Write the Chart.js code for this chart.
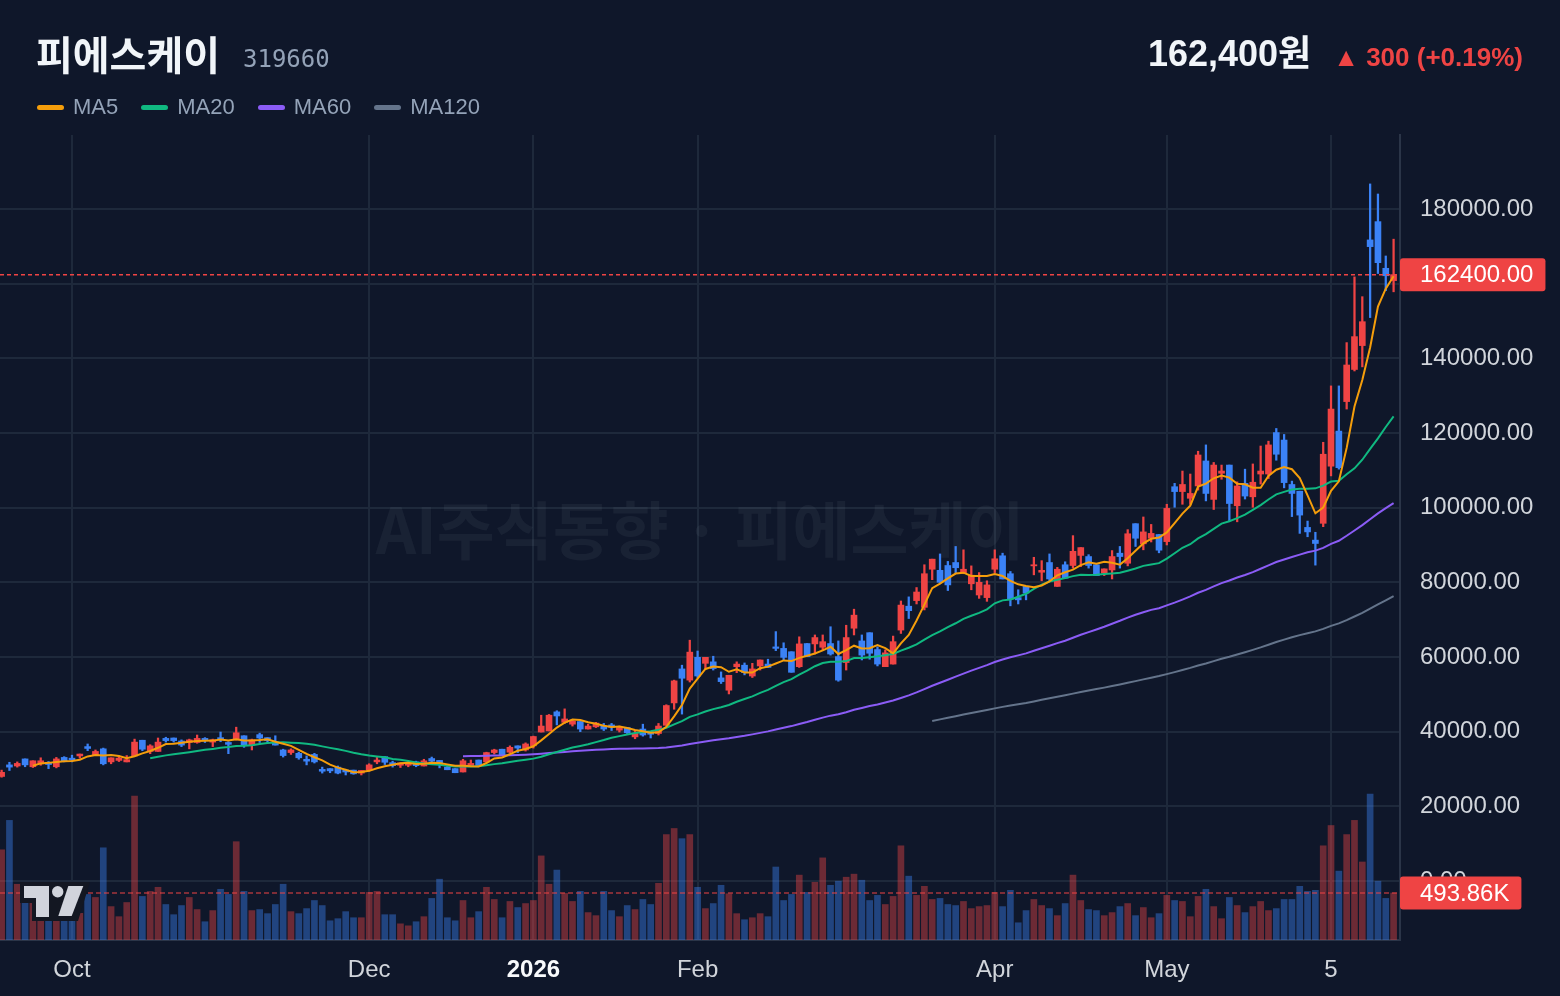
<!DOCTYPE html>
<html lang="ko">
<head>
    <meta charset="utf-8">
    <title>피에스케이</title>
    <script src="https://cdn.jsdelivr.net/npm/chart.js"></script>
    <style>
        html, body {
            margin: 0;
            padding: 0;
            background: #0f172a;
            width: 1560px;
            height: 996px;
            overflow: hidden;
        }

        #chart {
            position: absolute;
            left: 0;
            top: 0;
        }

        .head {
            position: absolute;
            white-space: nowrap;
            z-index: 2;
        }

        #name {
            left: 36px;
            top: 33px;
            font: bold 40px/40px "Noto Sans CJK KR", sans-serif;
            color: #f1f5f9;
        }

        #code {
            left: 243px;
            top: 47px;
            font: 24px/24px "DejaVu Sans Mono", monospace;
            color: #94a3b8;
        }

        #price {
            right: 37px;
            top: 36px;
            display: flex;
            align-items: baseline;
            gap: 22px;
        }

        #price .now {
            font: bold 36px/36px "Liberation Sans", "Noto Sans CJK KR", sans-serif;
            color: #f1f5f9;
        }

        #price .chg {
            font: bold 26px/26px "Liberation Sans", sans-serif;
            color: #ef4444;
        }

        #legend {
            left: 37px;
            top: 96px;
            display: flex;
            gap: 23px;
            font: 22px/22px "Liberation Sans", sans-serif;
            color: #94a3b8;
        }

        #legend .item {
            display: flex;
            align-items: center;
            gap: 9px;
        }

        #legend .sw {
            width: 27px;
            height: 5px;
            border-radius: 3px;
        }
    </style>
</head>
<body>
<div class="head" id="name">피에스케이</div>
<div class="head" id="code">319660</div>
<div class="head" id="price"><span class="now">162,400원</span><span class="chg">▲ 300 (+0.19%)</span></div>
<div class="head" id="legend"></div>
<canvas id="chart" width="1560" height="996"></canvas>
<script>
    // daily candles, index 0 = first visible session (mid Sep 2025)
    const opens = [28000,31100,30800,32700,30600,31400,31700,30600,33100,32900,33500,36000,33700,35400,31900,32300,31900,33500,37700,34700,34700,38200,38300,37500,37100,37100,38200,37200,38400,37100,37800,38900,36400,39200,38400,37300,35100,34400,34200,32600,33900,29900,30100,30500,29700,29700,28900,29700,31900,33300,31700,31000,31000,31900,30800,32800,32300,30500,30100,29200,30900,32400,31900,34400,35300,34500,36200,35100,36200,39900,40200,45300,42500,42000,42700,40700,41300,41500,41800,40400,41100,38600,40700,39700,39500,41700,47700,56800,53800,59900,58300,58700,54400,51100,57400,57800,54900,57600,58100,62700,62300,61400,57400,63600,63500,62600,63600,60100,58500,67700,64300,66500,62000,57400,58100,67200,73600,75100,73300,83500,83200,84500,85300,82500,79600,76600,75900,83500,87100,82300,75900,78900,84400,82700,85300,78900,84700,84500,87200,86900,84700,82500,83300,87800,85100,95700,90300,91800,92800,90900,105600,104300,102500,105800,112500,102200,109200,111400,100500,106500,102900,109000,109000,120100,118100,106200,104400,94700,91300,95800,111100,120500,128400,137000,143400,171700,176600,164100,160800];
    const highs = [29700,31800,31900,32700,32200,33000,32000,33100,33300,33700,34000,36700,35100,35600,33000,33500,33600,38000,37700,36500,38300,38500,38300,37800,38000,39100,38400,38000,39900,37300,41200,38900,38000,39600,38400,38900,35300,35400,34500,33500,34200,30500,30100,30800,29900,29700,29600,31400,33100,33300,32100,31600,31900,32100,32600,33200,32300,30700,30100,32600,32400,32400,34500,35300,35300,36200,36200,37000,38800,44400,44600,45600,46100,43300,42700,42000,42500,42200,42200,41500,41100,40300,42000,39700,42200,47200,53800,57800,64500,61600,59900,60200,56000,55100,58700,58400,58300,59200,59400,66800,63800,61400,65400,63600,65900,65900,68100,64300,68500,72800,65900,66500,62700,61900,65600,75000,76100,78600,84700,86200,87600,85600,89600,88700,84400,82600,80400,88700,87800,82900,78000,78900,86700,85800,87600,84000,85500,92500,89300,87400,84700,83600,88500,89600,94100,95700,97500,95500,92800,100900,106500,109800,109000,115100,116800,112100,111400,111400,106900,110300,111700,116500,117800,121200,119600,107100,104400,96400,93400,117500,132600,132600,144200,161800,156500,186700,184000,167400,171900];
    const lows = [27800,29600,30500,30600,30400,31000,30100,30300,31900,31900,32900,34900,33700,31100,31400,32000,31900,33500,34900,34100,34700,37200,37200,36000,35400,36900,37100,36000,37300,34100,37800,35800,35100,37100,36900,36400,33200,33900,32600,31100,31600,28900,29000,28700,28400,28600,28400,29400,31400,31200,30500,30400,30600,30600,30800,31500,30300,29800,29000,29200,30900,30900,31900,34000,33600,34200,34400,34800,35600,39900,40200,41800,42200,41500,40000,40700,41100,40300,40300,39900,39500,38100,38800,38300,39100,41700,46000,44700,53300,54500,56700,56500,52900,50100,55800,55200,54500,56500,57200,61700,59200,55900,57200,60100,60800,61700,60500,53500,56500,65900,59200,59400,57600,57400,58100,66300,70300,74200,72600,80700,79600,77800,82600,82300,78000,75700,74900,82600,80900,73700,74200,75300,82000,80400,80400,78900,81100,83800,84200,83800,81800,81800,80900,83800,84400,89600,88700,90800,87900,90000,100100,100900,100900,104700,101800,99500,107600,96500,96200,102300,100100,106300,107800,112700,105300,97600,93100,92200,84600,94900,108500,110300,126400,136600,137700,150900,162700,158100,157800];
    const closes = [29100,30500,31500,31100,32200,32200,31200,32700,32200,32400,34000,35500,34700,31400,33000,32900,32500,37200,35300,36200,37200,37600,37600,36400,37800,38200,37800,37800,37800,36600,39700,36300,37800,38300,37600,36400,33600,35100,33000,32100,31900,29400,29500,28900,29200,28700,29600,31100,32400,31800,30900,31600,31500,30900,32200,32100,31200,29800,29000,32200,31500,30900,34400,35100,33600,35800,35600,36700,38700,41500,44400,44200,43400,42800,40700,41500,42300,40700,41200,41100,39700,39500,39100,39300,41500,47000,53600,54300,61300,54900,59900,56900,53400,55100,58100,55800,56800,59200,57200,62300,59900,55900,63500,60100,65200,64100,60800,53800,65200,71200,60500,61000,58100,61100,64100,73900,72400,77400,82300,86200,80000,79300,83900,83500,81900,80000,79300,86300,80900,75500,75300,77100,84700,83200,80900,83500,81100,88300,89300,84500,81800,83600,86900,86900,93000,91800,93500,93100,88600,99800,104300,106200,103800,114100,103800,111400,109800,101100,105800,103100,106800,109800,116800,114300,106700,103800,98000,93500,90400,114300,126400,110700,138200,145800,149800,169900,165600,162100,162400];
    const volumes = [948000,1257000,586000,400000,450000,400000,350000,380000,300000,320000,280000,479000,447000,969000,351000,245000,394000,1512000,458000,511000,554000,373000,266000,362000,447000,320000,192000,309000,533000,479000,1033000,511000,309000,320000,277000,373000,586000,298000,277000,330000,415000,362000,202000,224000,298000,234000,234000,500000,511000,266000,266000,170000,149000,192000,245000,437000,639000,234000,202000,415000,234000,298000,554000,426000,234000,405000,341000,383000,415000,884000,586000,735000,490000,405000,511000,288000,256000,511000,309000,245000,362000,320000,426000,373000,596000,1108000,1172000,1065000,1108000,554000,330000,383000,575000,486000,277000,213000,234000,277000,245000,767000,415000,479000,682000,500000,607000,863000,575000,618000,660000,692000,628000,415000,469000,373000,458000,990000,671000,469000,564000,426000,437000,373000,362000,405000,330000,351000,362000,500000,351000,522000,181000,309000,426000,362000,330000,256000,383000,682000,415000,320000,309000,256000,288000,351000,383000,256000,341000,234000,277000,469000,415000,405000,245000,458000,533000,351000,224000,447000,362000,288000,351000,405000,309000,330000,426000,426000,564000,511000,522000,990000,1203000,724000,1108000,1257000,820000,1534000,618000,437000,493860];

    // month labels on the time axis (session index -> text)
    const tickIdx = [9, 47, 68, 89, 127, 149, 170];
    const tickText = ['Oct', 'Dec', '2026', 'Feb', 'Apr', 'May', '5'];
    const priceTicks = [0, 20000, 40000, 60000, 80000, 100000, 120000, 140000, 160000, 180000];

    const maSpecs = [
        {label: 'MA5', period: 5, color: '#f59e0b'},
        {label: 'MA20', period: 20, color: '#10b981'},
        {label: 'MA60', period: 60, color: '#8b5cf6'},
        {label: 'MA120', period: 120, color: '#64748b'},
    ];

    [highs, lows, closes, volumes].forEach(a => {
        if (a.length !== opens.length) throw new Error('length mismatch ' + a.length + ' vs ' + opens.length);
    });

    const UP = '#ef4444';
    const DOWN = '#3b82f6';
    const candleColors = closes.map((c, i) => c >= opens[i] ? UP : DOWN);
    const volColors = closes.map((c, i) => c >= opens[i] ? 'rgba(239,68,68,0.42)' : 'rgba(59,130,246,0.42)');

    function movingAverage(values, period) {
        return values.map((_, i) => {
            if (i < period - 1) return null;
            let sum = 0;
            for (let k = i - period + 1; k <= i; k++) sum += values[k];
            return sum / period;
        });
    }

    // legend in the header
    const legend = document.getElementById('legend');
    maSpecs.forEach(m => {
        const item = document.createElement('div');
        item.className = 'item';
        item.innerHTML = '<span class="sw" style="background:' + m.color + '"></span><span>' + m.label + '</span>';
        legend.appendChild(item);
    });

    const lastClose = closes[closes.length - 1];
    const lastVol = volumes[volumes.length - 1];

    function roundRect(ctx, x, y, w, h, r) {
        ctx.beginPath();
        ctx.moveTo(x + r, y);
        ctx.lineTo(x + w - r, y);
        ctx.quadraticCurveTo(x + w, y, x + w, y + r);
        ctx.lineTo(x + w, y + h - r);
        ctx.quadraticCurveTo(x + w, y + h, x + w - r, y + h);
        ctx.lineTo(x + r, y + h);
        ctx.quadraticCurveTo(x, y + h, x, y + h - r);
        ctx.lineTo(x, y + r);
        ctx.quadraticCurveTo(x, y, x + r, y);
        ctx.closePath();
    }

    const overlay = {
        id: 'overlay',
        beforeDatasetsDraw(chart) {
            const ctx = chart.ctx;
            const a = chart.chartArea;
            ctx.save();
            ctx.font = "bold 63px 'Noto Sans CJK KR'";
            ctx.fillStyle = 'rgba(148,163,184,0.08)';
            ctx.textAlign = 'center';
            ctx.textBaseline = 'middle';
            ctx.fillText('AI주식동향 · 피에스케이', (a.left + a.right) / 2, 530);
            ctx.restore();
        },
        afterDatasetsDraw(chart) {
            const ctx = chart.ctx;
            const a = chart.chartArea;
            const py = chart.scales.y.getPixelForValue(lastClose);
            const vy = chart.scales.yv.getPixelForValue(lastVol);
            ctx.save();
            ctx.lineWidth = 1.5;
            ctx.strokeStyle = UP;
            ctx.setLineDash([4, 3]);
            ctx.beginPath();
            ctx.moveTo(a.left, py);
            ctx.lineTo(a.right, py);
            ctx.stroke();
            ctx.strokeStyle = 'rgba(239,68,68,0.5)';
            ctx.lineWidth = 2;
            ctx.setLineDash([5, 3]);
            ctx.beginPath();
            ctx.moveTo(a.left, vy);
            ctx.lineTo(a.right, vy);
            ctx.stroke();
            ctx.restore();

            // TradingView mark, bottom left
            ctx.save();
            ctx.fillStyle = '#131722';
            ctx.beginPath();
            ctx.moveTo(20, 882);
            ctx.lineTo(90, 882);
            ctx.lineTo(78, 921);
            ctx.lineTo(32, 921);
            ctx.lineTo(32, 903);
            ctx.lineTo(20, 903);
            ctx.closePath();
            ctx.fill();
            ctx.fillStyle = '#d1d4dc';
            ctx.fillRect(24, 886, 25, 12);
            ctx.fillRect(36, 886, 13, 31);
            ctx.beginPath();
            ctx.arc(57.7, 891.7, 5.7, 0, Math.PI * 2);
            ctx.fill();
            ctx.beginPath();
            ctx.moveTo(68.3, 886);
            ctx.lineTo(83.3, 886);
            ctx.lineTo(71.7, 916);
            ctx.lineTo(58.3, 916);
            ctx.closePath();
            ctx.fill();
            ctx.restore();
        },
        afterDraw(chart) {
            const ctx = chart.ctx;
            const a = chart.chartArea;
            const boxes = [
                {y: chart.scales.y.getPixelForValue(lastClose), text: lastClose.toFixed(2)},
                {y: chart.scales.yv.getPixelForValue(lastVol), text: (lastVol / 1000).toFixed(2) + 'K'},
            ];
            ctx.save();
            ctx.font = "24px 'Liberation Sans'";
            ctx.textBaseline = 'middle';
            boxes.forEach(b => {
                const w = ctx.measureText(b.text).width + 32;
                ctx.fillStyle = UP;
                roundRect(ctx, a.right, b.y - 16.5, w, 33, 3);
                ctx.fill();
                ctx.fillStyle = '#ffffff';
                ctx.fillText(b.text, a.right + 20, b.y + 1);
            });
            ctx.restore();
        }
    };

    Chart.defaults.font.family = "'Liberation Sans', Arial, sans-serif";

    const datasets = [];
    maSpecs.forEach((m, k) => {
        const ma = movingAverage(closes, m.period);
        datasets.push({
            type: 'line',
            label: m.label,
            data: ma.map((v, i) => ({x: i, y: v})),
            borderColor: m.color,
            borderWidth: 2,
            pointRadius: 0,
            tension: 0,
            yAxisID: 'y',
            order: k,
        });
    });
    datasets.push({
        type: 'bar',
        label: 'body',
        data: opens.map((o, i) => ({x: i, y: [o, closes[i]]})),
        backgroundColor: candleColors,
        barThickness: 6,
        minBarLength: 1,
        grouped: false,
        yAxisID: 'y',
        order: 10,
    });
    datasets.push({
        type: 'bar',
        label: 'wick',
        data: lows.map((l, i) => ({x: i, y: [l, highs[i]]})),
        backgroundColor: candleColors,
        barThickness: 1.6,
        grouped: false,
        yAxisID: 'y',
        order: 11,
    });
    datasets.push({
        type: 'bar',
        label: 'volume',
        data: volumes.map((v, i) => ({x: i, y: v})),
        backgroundColor: volColors,
        barThickness: 6,
        grouped: false,
        yAxisID: 'yv',
        order: 12,
    });

    const ctx = document.getElementById('chart').getContext('2d');
    const chart = new Chart(ctx, {
        type: 'line',
        data: {datasets: datasets},
        options: {
            responsive: false,
            animation: false,
            layout: {padding: {top: 135, left: 0, right: 0, bottom: 0}},
            plugins: {
                legend: {display: false},
                tooltip: {enabled: false},
            },
            scales: {
                x: {
                    type: 'linear',
                    min: -0.207,
                    max: 178.82,
                    offset: false,
                    afterBuildTicks: s => {
                        s.ticks = tickIdx.map(v => ({value: v}));
                    },
                    afterFit: s => {
                        s.height = 56;
                    },
                    ticks: {
                        autoSkip: false,
                        maxRotation: 0,
                        padding: 16,
                        callback: v => tickText[tickIdx.indexOf(v)],
                        color: c => (c.tick && c.tick.value === 68) ? '#f8fafc' : '#d1d5db',
                        font: c => ({size: 24, weight: (c.tick && c.tick.value === 68) ? 'bold' : 'normal'}),
                    },
                    grid: {color: '#1e293b', lineWidth: 2, drawTicks: false, offset: false},
                    border: {color: '#2b3548', width: 2},
                },
                y: {
                    position: 'right',
                    min: -15800,
                    max: 199800,
                    afterBuildTicks: s => {
                        s.ticks = priceTicks.map(v => ({value: v}));
                    },
                    afterFit: s => {
                        s.width = 160;
                    },
                    ticks: {
                        padding: 20,
                        color: '#d1d5db',
                        font: {size: 24},
                        callback: v => Number(v).toFixed(2),
                    },
                    grid: {color: '#1e293b', lineWidth: 2, drawTicks: false},
                    border: {color: '#2b3548', width: 2},
                },
                yv: {
                    display: false,
                    min: 0,
                    max: 8460000,
                },
            },
        },
        plugins: [overlay],
    });
</script>
</body>
</html>
